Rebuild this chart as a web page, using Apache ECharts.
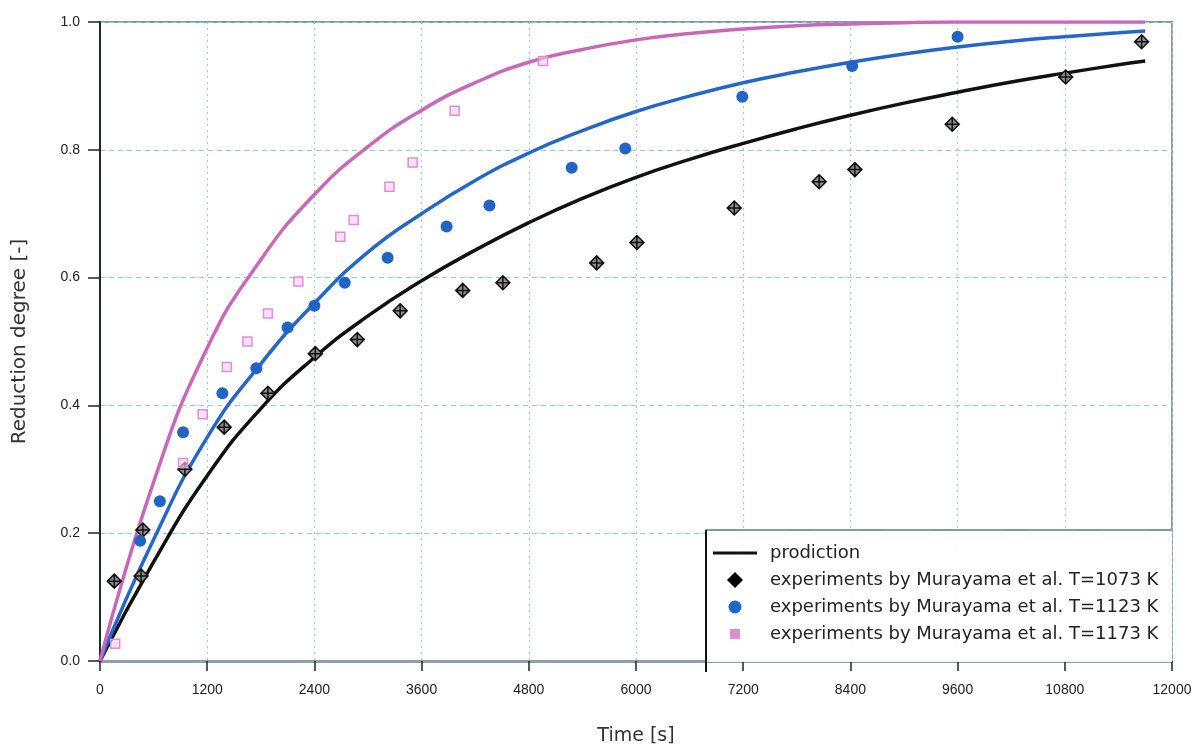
<!DOCTYPE html>
<html>
<head>
<meta charset="utf-8">
<script src="https://cdn.jsdelivr.net/npm/echarts@6/dist/echarts.min.js"></script>
<style>html,body{margin:0;padding:0;background:#fff}#c{width:1200px;height:751px}</style>
</head>
<body>
<div id="c"></div>
<script>
// ---- data ----
const xTicks = [0, 1200, 2400, 3600, 4800, 6000, 7200, 8400, 9600, 10800, 12000];
const yTicks = [0.0, 0.2, 0.4, 0.6, 0.8, 1.0];

const predTime = [0, 600, 1200, 1800, 2400, 3000, 3600, 4200, 4800, 5400, 6000, 6600, 7200, 7800, 8400, 9000, 9600, 10200, 10800, 11400, 11700];
const pred1073 = [0, 0.155, 0.29, 0.395, 0.475, 0.54, 0.595, 0.643, 0.686, 0.724, 0.757, 0.785, 0.81, 0.833, 0.854, 0.873, 0.89, 0.906, 0.92, 0.933, 0.939];
const pred1123 = [0, 0.19, 0.35, 0.465, 0.56, 0.64, 0.70, 0.752, 0.795, 0.83, 0.86, 0.884, 0.905, 0.922, 0.937, 0.95, 0.961, 0.97, 0.977, 0.983, 0.986];
const pred1173 = [0, 0.28, 0.49, 0.628, 0.73, 0.805, 0.862, 0.905, 0.937, 0.957, 0.972, 0.982, 0.989, 0.994, 0.997, 0.999, 1.0, 1.0, 1.0, 1.0, 1.0];

const exp1073T = [160, 460, 480, 950, 1390, 1880, 2410, 2880, 3360, 4060, 4510, 5560, 6010, 7100, 8050, 8450, 9540, 10810, 11660];
const exp1073Y = [0.125, 0.133, 0.205, 0.30, 0.366, 0.419, 0.481, 0.503, 0.548, 0.580, 0.592, 0.623, 0.655, 0.709, 0.75, 0.769, 0.84, 0.914, 0.969];

const exp1123T = [450, 670, 930, 1370, 1750, 2100, 2400, 2740, 3220, 3880, 4360, 5280, 5880, 7190, 8420, 9600];
const exp1123Y = [0.188, 0.25, 0.358, 0.419, 0.458, 0.522, 0.556, 0.592, 0.631, 0.680, 0.713, 0.772, 0.802, 0.883, 0.931, 0.977];

const exp1173T = [170, 930, 1150, 1420, 1650, 1880, 2220, 2690, 2840, 3240, 3500, 3970, 4960];
const exp1173Y = [0.027, 0.31, 0.386, 0.46, 0.50, 0.544, 0.594, 0.664, 0.69, 0.742, 0.78, 0.861, 0.939];

const seriesNames = [
  'prodiction',
  'experiments by Murayama et al. T=1073 K',
  'experiments by Murayama et al. T=1123 K',
  'experiments by Murayama et al. T=1173 K'
];

const zip = (a, b) => a.map((v, i) => [v, b[i]]);

const chart = echarts.init(document.getElementById('c'), null, {renderer: 'canvas'});
const FONT = 'Liberation Sans, Arial, sans-serif';
const WFONT = 'DejaVu Sans, sans-serif';

const lineCommon = {type: 'line', smooth: true, symbol: 'none', z: 3};

chart.setOption({
  animation: false,
  backgroundColor: '#fff',
  grid: {left: 100, right: 28, top: 22, bottom: 89, show: true, borderColor: '#7f9ca2', borderWidth: 1.8, backgroundColor: 'transparent'},
  xAxis: {
    type: 'value', min: xTicks[0], max: xTicks[xTicks.length - 1], interval: 1200,
    name: 'Time [s]', nameLocation: 'middle', nameGap: 66,
    nameTextStyle: {fontFamily: WFONT, fontSize: 19, color: '#333'},
    axisLine: {show: true, onZero: false, lineStyle: {color: '#8f9fa3', width: 3}},
    axisTick: {show: true, length: 10, lineStyle: {color: '#222', width: 1.5}},
    axisLabel: {fontFamily: FONT, fontSize: 14, color: '#222', margin: 22, formatter: v => String(v)},
    splitLine: {show: true, lineStyle: {color: '#92cbe8', width: 1, type: [2, 4]}}
  },
  yAxis: {
    type: 'value', min: yTicks[0], max: yTicks[yTicks.length - 1], interval: 0.2,
    name: 'Reduction degree [-]', nameLocation: 'middle', nameGap: 70,
    nameTextStyle: {fontFamily: WFONT, fontSize: 20, color: '#333'},
    axisLine: {show: true, onZero: false, lineStyle: {color: '#1d2a2e', width: 2}},
    axisTick: {show: true, length: 12, lineStyle: {color: '#222', width: 1.5}},
    axisLabel: {fontFamily: FONT, fontSize: 14, color: '#222', margin: 20, formatter: v => v.toFixed(1)},
    splitLine: {show: true, lineStyle: {color: '#8cc8e8', width: 1, type: [5, 4]}}
  },
  legend: {
    orient: 'vertical', left: 708, top: 539, itemWidth: 44, itemHeight: 16, itemGap: 9,
    textStyle: {fontFamily: WFONT, fontSize: 18, color: '#222', padding: [0, 0, 0, 8]},
    data: [
      {name: seriesNames[0], icon: 'path://M0,0 M44,16 M0,6.5 L44,6.5 L44,9.5 L0,9.5 Z', itemStyle: {color: '#111'}},
      {name: seriesNames[1], icon: 'path://M0,0 M44,16 M14,8 L22,0 L30,8 L22,16 Z', itemStyle: {color: '#000', borderWidth: 0}},
      {name: seriesNames[2], icon: 'path://M0,0 M44,16 M28.5,8 A6.5,6.5 0 1 1 15.5,8 A6.5,6.5 0 1 1 28.5,8 Z', itemStyle: {color: '#2466c8', borderWidth: 0}},
      {name: seriesNames[3], icon: 'path://M0,0 M44,16 M17,3 L27,3 L27,13 L17,13 Z', itemStyle: {color: '#d98fcf', borderWidth: 0}}
    ],
    z: 10
  },
  graphic: [
    {type: 'rect', z: 5, shape: {x: 706, y: 530, width: 466, height: 132}, style: {fill: 'rgba(255,255,255,0.9)', stroke: null}},
    {type: 'line', z: 6, shape: {x1: 706, y1: 530, x2: 1172, y2: 530}, style: {stroke: '#7f9ca2', lineWidth: 1.8}},
    {type: 'line', z: 6, shape: {x1: 706, y1: 530, x2: 706, y2: 672}, style: {stroke: '#111', lineWidth: 2}}
  ],
  series: [
    Object.assign({name: seriesNames[0], data: zip(predTime, pred1073), lineStyle: {color: '#111', width: 3.5}, itemStyle: {color: '#111'}}, lineCommon),
    Object.assign({name: 'pred1123', data: zip(predTime, pred1123), lineStyle: {color: '#2467c9', width: 3.5}, itemStyle: {color: '#2467c9'}}, lineCommon),
    Object.assign({name: 'pred1173', data: zip(predTime, pred1173), lineStyle: {color: '#c968ba', width: 3.5}, itemStyle: {color: '#c968ba'}}, lineCommon),
    {name: seriesNames[1], type: 'scatter', data: zip(exp1073T, exp1073Y), symbol: 'path://M0,-10 L10,0 L0,10 L-10,0 Z M0,-10 L0,10 M-10,0 L10,0', symbolSize: 14,
      itemStyle: {color: '#8d8d8d', borderColor: '#111', borderWidth: 1.5, opacity: 1}, z: 4},
    {name: seriesNames[2], type: 'scatter', data: zip(exp1123T, exp1123Y), symbol: 'circle', symbolSize: 12,
      itemStyle: {color: '#2264c6', opacity: 1}, z: 4},
    {name: seriesNames[3], type: 'scatter', data: zip(exp1173T, exp1173Y), symbol: 'rect', symbolSize: 9,
      itemStyle: {color: 'rgba(245,205,236,0.6)', borderColor: '#e08fd3', borderWidth: 1.5, opacity: 1}, z: 4}
  ]
});
</script>
</body>
</html>
